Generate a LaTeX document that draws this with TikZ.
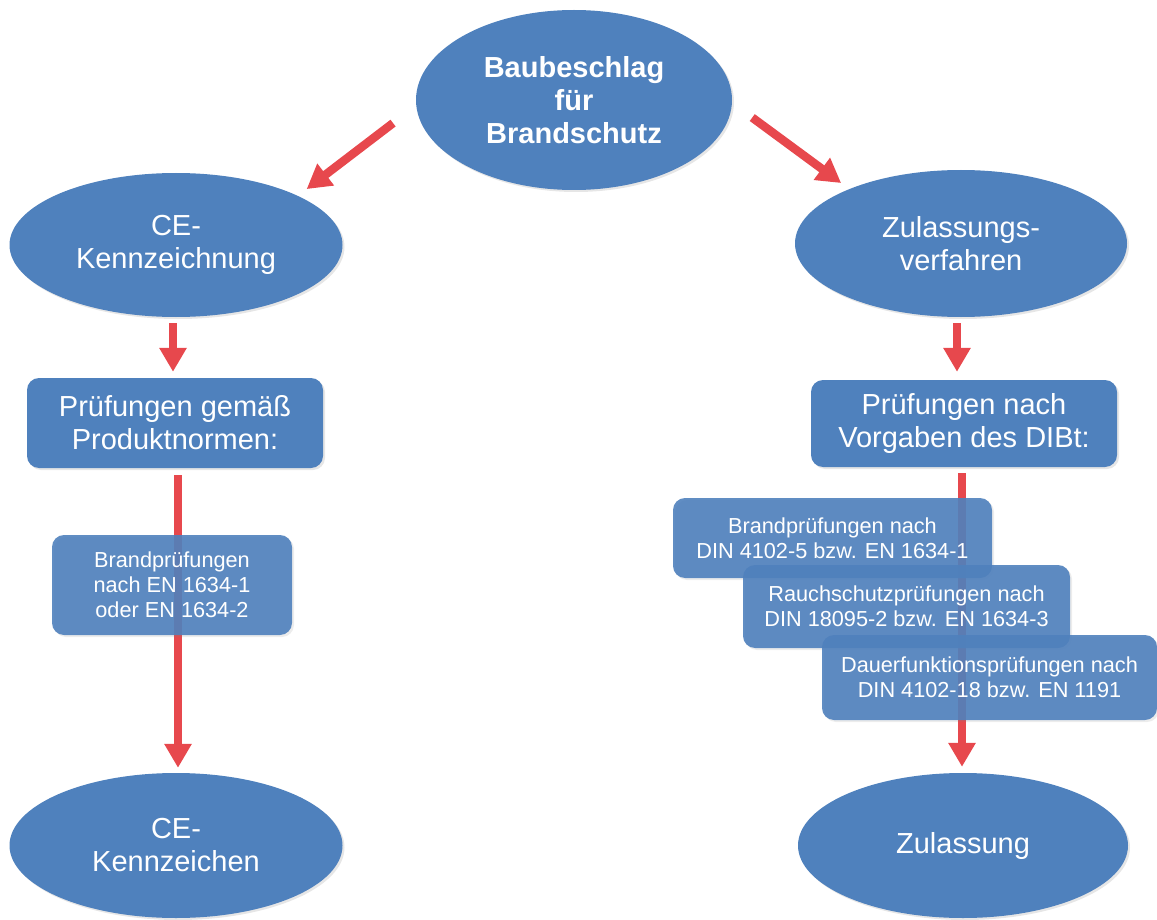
\documentclass[tikz,border=0pt]{standalone}
\usepackage{fontspec}
\setmainfont{Liberation Sans}
\usetikzlibrary{shapes.geometric,arrows.meta,shadows,backgrounds}
\definecolor{ovalblue}{RGB}{79,129,189}
\definecolor{arrowred}{RGB}{231,72,77}

\begin{document}
\begin{tikzpicture}[x=1pt,y=-1pt,
    oval/.style={ellipse,fill=ovalblue,text=white,inner sep=0pt,align=center,
        font=\fontsize{29}{33}\selectfont,
        drop shadow={shadow xshift=2pt,shadow yshift=-2pt,opacity=0.2}},
    bigbox/.style={rectangle,rounded corners=12pt,fill=ovalblue,text=white,inner sep=0pt,
        align=center,font=\fontsize{29}{33}\selectfont,
        drop shadow={shadow xshift=2pt,shadow yshift=-2pt,opacity=0.2}},
    smallbox/.style={rectangle,rounded corners=12pt,fill=ovalblue,fill opacity=0.9,
        text opacity=1,text=white,inner sep=0pt,align=center,
        font=\fontsize{21.7}{25}\selectfont,
        drop shadow={shadow xshift=2pt,shadow yshift=-2pt,opacity=0.15}},
    redarrow/.style={draw=arrowred,line width=8.5pt,-{Triangle[width=26pt,length=24pt]}}]
    \useasboundingbox (0,0) rectangle (1157,920);
    \node[oval,minimum width=316pt,minimum height=180pt,
        font=\fontsize{29}{33}\selectfont\bfseries] (top) at (574,100) {Baubeschlag\\für\\Brandschutz};
    \node[oval,minimum width=333pt,minimum height=144pt] (cezn) at (176,245) {CE-\\Kennzeichnung};
    \node[oval,minimum width=332pt,minimum height=147pt] (zulv) at (961,243.5) {Zulassungs-\\verfahren};
    \node[bigbox,minimum width=296pt,minimum height=90pt] (pgn) at (175,423) {Prüfungen gemäß\\Produktnormen:};
    \node[bigbox,minimum width=306pt,minimum height=87pt] (pnv) at (964,423.5) {Prüfungen nach\\Vorgaben des DIBt:};
    \node[oval,minimum width=333pt,minimum height=145pt] (cekz) at (176,845.5) {CE-\\Kennzeichen};
    \node[oval,minimum width=330pt,minimum height=145pt] (zul) at (963,845.5) {Zulassung};
    \node[smallbox,minimum width=240pt,minimum height=100pt] (bpl) at (172,585)
        {Brandprüfungen\\nach EN 1634-1\\oder EN 1634-2};
    \node[smallbox,minimum width=319pt,minimum height=80pt] (bpr) at (832.5,538)
        {Brandprüfungen nach\\DIN 4102-5 bzw. EN 1634-1};
    \node[smallbox,minimum width=327pt,minimum height=83pt] (rsp) at (906.5,606.5)
        {Rauchschutzprüfungen nach\\DIN 18095-2 bzw. EN 1634-3};
    \node[smallbox,minimum width=335pt,minimum height=85pt] (dfp) at (989.5,677.5)
        {Dauerfunktionsprüfungen nach\\DIN 4102-18 bzw. EN 1191};
    \begin{pgfonlayer}{background}
        \draw[redarrow,shorten <=29pt,shorten >=11pt] (top.182) -- (cezn.22);
        \draw[redarrow,shorten <=25pt,shorten >=10pt] (top.-1.3) -- (zulv.154);
        \draw[redarrow,shorten <=6pt,shorten >=6pt] ([xshift=-3pt]cezn.south) -- ([xshift=-3pt]cezn.south |- pgn.north);
        \draw[redarrow,shorten <=6pt,shorten >=8pt] ([xshift=-4pt]zulv.south) -- ([xshift=-4pt]zulv.south |- pnv.north);
        \draw[redarrow,shorten <=7pt,shorten >=5pt] ([xshift=3pt]pgn.south) -- ([xshift=3pt]pgn.south |- cekz.north);
        \draw[redarrow,shorten <=6pt,shorten >=6pt] ([xshift=-2pt]pnv.south) -- ([xshift=-2pt]pnv.south |- zul.north);
    \end{pgfonlayer}
\end{tikzpicture}
\end{document}
